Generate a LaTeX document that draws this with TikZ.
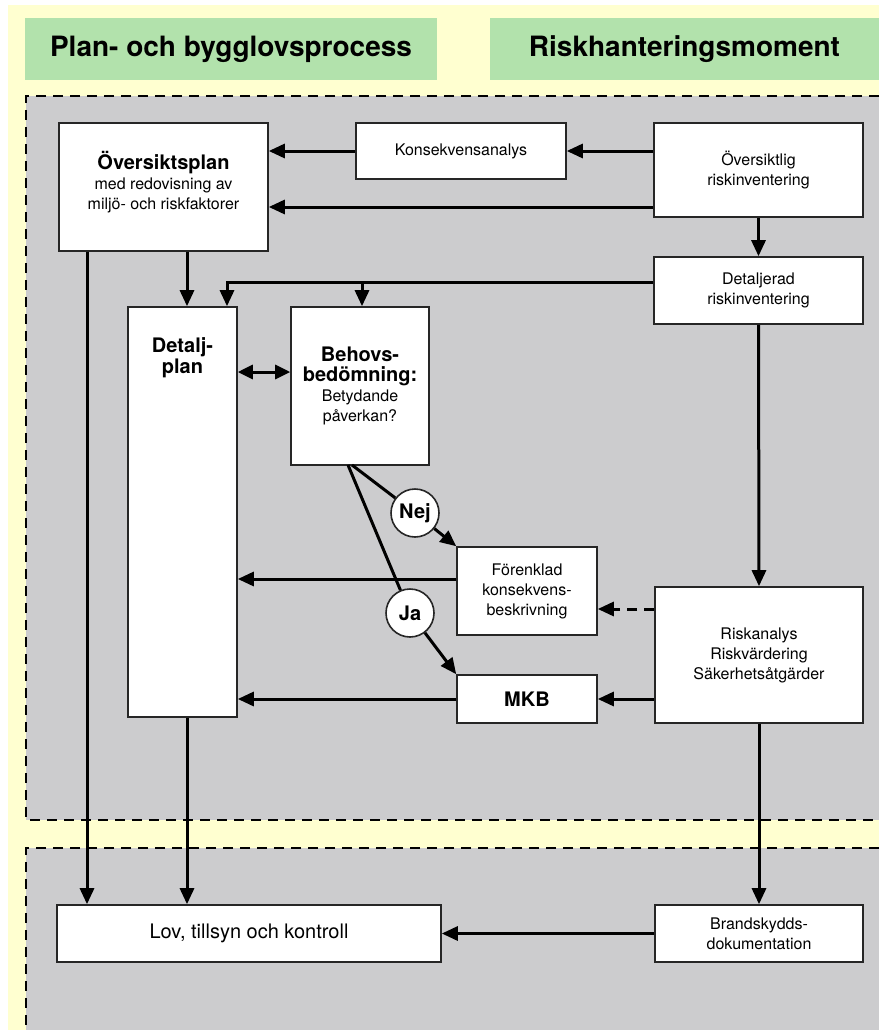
\documentclass[tikz,border=0pt]{standalone}
\usepackage{fontspec}
\setmainfont{TeX Gyre Heros}
\usetikzlibrary{arrows.meta}
\definecolor{bgyellow}{RGB}{255,255,208}
\definecolor{hdgreen}{RGB}{178,226,172}
\definecolor{regiongrey}{RGB}{204,204,206}
\newcommand{\txtreg}{\fontsize{16}{20}\selectfont}
\newcommand{\txtbold}{\fontsize{20}{21}\selectfont\bfseries}
\newcommand{\txthead}{\fontsize{28}{30}\selectfont\bfseries}
\begin{document}
\begin{tikzpicture}[x=1pt,y=-1pt,
  box/.style={draw=black!85, line width=1.6pt, fill=white, inner sep=0pt, align=center, font=\txtreg},
  hdr/.style={fill=hdgreen, inner sep=0pt, font=\txthead},
  region/.style={fill=regiongrey},
  regionedge/.style={draw=black, line width=2pt, dash pattern=on 10pt off 7pt},
  conn/.style={line width=3pt, draw=black},
  arr/.style={conn, -{Triangle[length=16pt,width=14pt]}},
  darr/.style={conn, {Triangle[length=15pt,width=14pt]}-{Triangle[length=15pt,width=14pt]}},
  dasharr/.style={arr, dash pattern=on 10pt off 7pt},
  decision/.style={circle, draw=black!85, line width=1.6pt, fill=white, minimum size=48pt, inner sep=0pt, font=\txtbold}
]
\useasboundingbox (0,0) rectangle (879,1030);
\fill[white] (0,0) rectangle (879,1030);
\fill[bgyellow] (8,5) rectangle (879,1030);
% regions
\fill[region] (26,96) rectangle (879,820);
\fill[region] (26,848) rectangle (879,1030);
\draw[regionedge] (879,96) -- (26,96) -- (26,820) -- (879,820);
\draw[regionedge] (879,848) -- (26,848) -- (26,1030);
% headers
\node[hdr, minimum width=412pt, minimum height=62pt] (h1) at (231,49) {Plan- och bygglovsprocess};
\node[hdr, minimum width=389pt, minimum height=62pt] (h2) at (684.5,49) {Riskhanteringsmoment};
% boxes
\node[box, minimum width=209pt, minimum height=128pt,
  label={[align=center, font=\txtreg, yshift=5pt]center:{{\txtbold Översiktsplan}\\med redovisning av\\miljö- och riskfaktorer}}] (op) at (163.5,187) {};
\node[box, minimum width=210pt, minimum height=56pt] (ka) at (461,151) {Konsekvensanalys};
\node[box, minimum width=209pt, minimum height=94pt] (or) at (758.5,170) {Översiktlig\\riskinventering};
\node[box, minimum width=209pt, minimum height=67pt] (dr) at (758.5,290.5) {Detaljerad\\riskinventering};
\node[box, minimum width=109pt, minimum height=410pt,
  label={[anchor=north, yshift=-28pt, align=center, font=\txtbold]north:{Detalj-\\plan}}] (dp) at (182.5,512) {};
\node[box, minimum width=138pt, minimum height=158pt] (beh) at (360,386)
  {{\txtbold Behovs-}\\{\txtbold bedömning:}\\Betydande\\påverkan?};
\node[box, minimum width=140pt, minimum height=88pt] (fk) at (527,591) {Förenklad\\konsekvens-\\beskrivning};
\node[box, minimum width=140pt, minimum height=48pt, font=\txtbold] (mkb) at (527,699) {MKB};
\node[box, minimum width=208pt, minimum height=136pt] (ra) at (759,655) {Riskanalys\\Riskvärdering\\Säkerhetsåtgärder};
\node[box, minimum width=384pt, minimum height=57pt, font=\fontsize{20}{22}\selectfont] (lov) at (249,933.5) {Lov, tillsyn och kontroll};
\node[box, minimum width=208pt, minimum height=57pt] (bd) at (759,933.5) {Brandskydds-\\dokumentation};
\node[decision] (nej) at (415,513) {Nej};
\node[decision] (ja) at (410,613) {Ja};
% junction coordinates
\coordinate (jb) at (362,282);
\coordinate (bsj) at (348,465);
\coordinate (bsn) at (352,465);
% connectors
\draw[arr] (ka.west) -- (ka.west -| op.east);
\draw[arr] (or.west |- ka.west) -- (ka.east);
\draw[arr] (or.west |- 0,207) -- (op.east |- 0,207);
\draw[arr] (or.south) -- (dr.north);
\draw[arr] (op.south -| 187,0) -- (dp.north -| 187,0);
\draw[arr] (op.south -| 87,0) -- (lov.north -| 87,0);
\draw[arr] (dr.west |- jb) -| (dp.north -| 227,0);
\draw[arr] (jb) -- (beh.north -| jb);
\draw[darr] (dp.east |- 0,372) -- (beh.west |- 0,372);
\draw[conn] (bsn) -- (nej);
\draw[arr] (nej) -- (fk.north west);
\draw[conn] (bsj) -- (ja);
\draw[arr] (ja) -- (mkb.north west);
\draw[arr] (fk.west |- 0,579) -- (dp.east |- 0,579);
\draw[arr] (mkb.west) -- (mkb.west -| dp.east);
\draw[dasharr] (ra.west |- 0,609) -- (fk.east |- 0,609);
\draw[arr] (ra.west |- mkb.west) -- (mkb.east);
\draw[arr] (dr.south) -- (ra.north);
\draw[arr] (ra.south) -- (bd.north);
\draw[arr] (dp.south -| 187,0) -- (lov.north -| 187,0);
\draw[arr] (bd.west) -- (lov.east);
\end{tikzpicture}
\end{document}
